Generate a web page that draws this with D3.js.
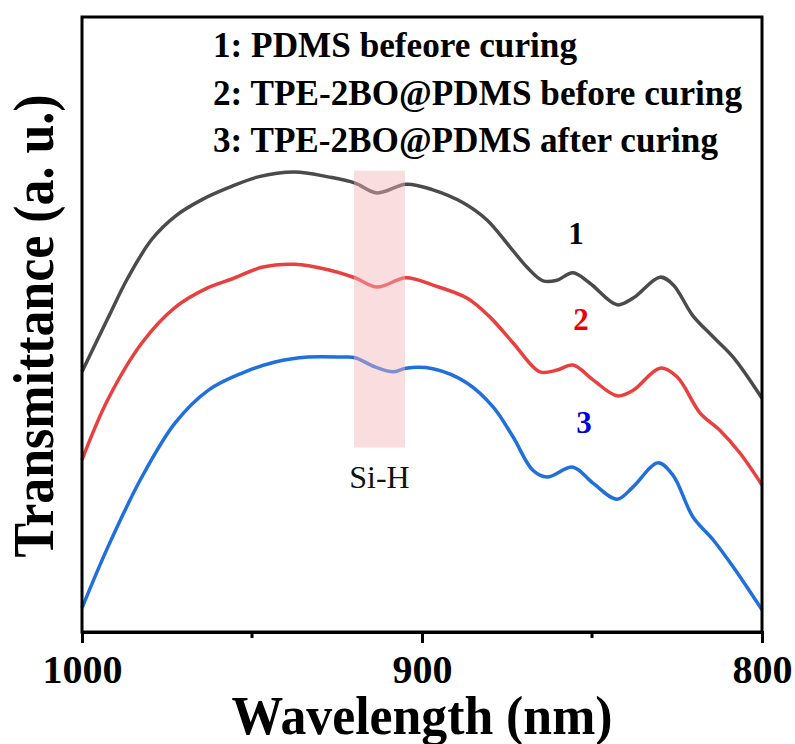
<!DOCTYPE html>
<html>
<head>
<meta charset="utf-8">
<script src="https://cdn.jsdelivr.net/npm/d3@7"></script>
<style>
  body { margin: 0; background: #fff; }
  text { font-family: "Liberation Serif", "Times New Roman", serif; }
</style>
</head>
<body>
<script>
// wavelength (nm) and transmittance (a. u.)
var wl1 = [1000, 992.4, 986.5, 979.4, 972.6, 964.7, 957.1, 948.2, 937.4, 927.6, 919.7, 913.2, 904.7, 896.8, 887.9, 880.9, 874.1, 869.1, 864.4, 860.3, 855.6, 850.6, 842.6, 837.9, 830.0, 826.2, 820.3, 814.4, 808.5, 800];
var t1  = [42.3, 51.0, 57.6, 63.9, 67.6, 70.3, 72.2, 74.0, 74.8, 74.0, 73.0, 71.4, 72.8, 71.9, 69.8, 67.0, 62.6, 59.3, 57.1, 57.2, 58.4, 56.7, 53.2, 54.3, 57.7, 56.5, 51.4, 48.0, 44.7, 38.0];

var wl2 = [1000, 992.4, 982.4, 972.6, 962.9, 955.9, 947.1, 937.4, 927.6, 919.7, 913.2, 904.7, 896.8, 886.8, 880.0, 873.2, 865.3, 860.3, 855.6, 849.7, 842.6, 837.9, 830.0, 825.0, 818.2, 812.4, 806.5, 800];
var t2  = [28.0, 37.8, 47.0, 52.8, 56.0, 57.4, 59.3, 59.8, 58.9, 57.6, 56.1, 57.6, 56.4, 54.3, 51.2, 47.0, 42.3, 42.6, 43.4, 41.0, 38.4, 39.3, 42.9, 41.5, 35.6, 32.8, 29.1, 23.9];

var wl3 = [1000, 992.4, 982.4, 972.6, 962.9, 952.9, 943.2, 933.5, 923.5, 919.7, 913.8, 908.5, 904.7, 896.8, 886.8, 879.1, 873.2, 867.4, 863.2, 855.6, 849.7, 842.6, 837.9, 830.6, 826.2, 820.3, 814.4, 808.5, 800];
var t3  = [3.9, 13.8, 25.2, 34.0, 39.3, 42.1, 43.9, 44.7, 44.7, 44.6, 43.1, 42.3, 42.9, 42.8, 40.5, 36.6, 31.7, 26.3, 25.2, 26.8, 24.2, 21.6, 23.6, 27.5, 25.5, 18.7, 15.0, 10.6, 3.6];

var legendLines = ['1: PDMS befeore curing', '2: TPE-2BO@PDMS before curing', '3: TPE-2BO@PDMS after curing'];
var curveLabels = ['1', '2', '3'];
var majorTicks = [1000, 900, 800];
var minorTicks = [950, 850];
var siH = [920, 905];       // shaded band (nm)
var siHRange = [75, 30];    // band height (a. u.)

var colors = ['#4b4b4b', '#e9403f', '#1f6fdd'];
var labelColors = ['#000000', '#ee0000', '#0000dd'];

var width = 795, height = 744;
var mLeft = 82, mRight = 762, mTop = 17, mBottom = 632;

var svg = d3.select('body').append('svg')
  .attr('width', width)
  .attr('height', height);

var x = d3.scaleLinear().domain([1000, 800]).range([mLeft, mRight]);
var y = d3.scaleLinear().domain([0, 100]).range([mBottom, mTop]);

var line = d3.line()
  .x(function(d) { return x(d[0]); })
  .y(function(d) { return y(d[1]); })
  .curve(d3.curveCatmullRom.alpha(0.5));

var series = [d3.zip(wl1, t1), d3.zip(wl2, t2), d3.zip(wl3, t3)];

svg.selectAll('path.curve')
  .data(series)
  .enter()
    .append('path')
    .attr('class', 'curve')
    .attr('d', line)
    .attr('fill', 'none')
    .attr('stroke', function(d, i) { return colors[i]; })
    .attr('stroke-width', 3.5)
    .attr('stroke-linejoin', 'round');

// Si-H band sits on top of the curves
svg.append('rect')
  .attr('x', x(siH[0]))
  .attr('width', x(siH[1]) - x(siH[0]))
  .attr('y', y(siHRange[0]))
  .attr('height', y(siHRange[1]) - y(siHRange[0]))
  .attr('fill', '#f3b3b8')
  .attr('opacity', 0.45);

svg.append('text')
  .attr('x', x((siH[0] + siH[1]) / 2))
  .attr('y', 488)
  .attr('text-anchor', 'middle')
  .attr('font-size', 32)
  .attr('fill', '#111')
  .text('Si-H');

// frame
svg.append('rect')
  .attr('x', mLeft)
  .attr('y', mTop)
  .attr('width', mRight - mLeft)
  .attr('height', mBottom - mTop)
  .attr('fill', 'none')
  .attr('stroke', '#000')
  .attr('stroke-width', 3);

// x axis
var axis = svg.append('g')
  .attr('transform', 'translate(0,' + mBottom + ')')
  .call(d3.axisBottom(x).tickValues(majorTicks).tickSize(11).tickPadding(12).tickFormat(d3.format('d')));
axis.select('.domain').attr('stroke-width', 3);
axis.selectAll('.tick line').attr('stroke-width', 3);
axis.selectAll('.tick text')
  .attr('font-size', 40)
  .attr('font-weight', 'bold')
  .attr('font-family', '"Liberation Serif", "Times New Roman", serif')
  .attr('fill', '#000');

svg.selectAll('line.minor')
  .data(minorTicks)
  .enter()
    .append('line')
    .attr('class', 'minor')
    .attr('x1', function(d) { return x(d); })
    .attr('x2', function(d) { return x(d); })
    .attr('y1', mBottom)
    .attr('y2', mBottom + 6)
    .attr('stroke', '#000')
    .attr('stroke-width', 3);

// axis titles
svg.append('text')
  .attr('x', (mLeft + mRight) / 2)
  .attr('y', 734)
  .attr('text-anchor', 'middle')
  .attr('font-size', 55)
  .attr('font-weight', 'bold')
  .attr('textLength', 381)
  .attr('lengthAdjust', 'spacingAndGlyphs')
  .text('Wavelength (nm)');

svg.append('text')
  .attr('transform', 'translate(53,326) rotate(-90)')
  .attr('text-anchor', 'middle')
  .attr('font-size', 56)
  .attr('font-weight', 'bold')
  .attr('textLength', 463)
  .attr('lengthAdjust', 'spacingAndGlyphs')
  .text('Transmittance (a. u.)');

// legend
var legendWidths = [364, 529, 505];
svg.selectAll('text.legend')
  .data(legendLines)
  .enter()
    .append('text')
    .attr('class', 'legend')
    .attr('x', 213)
    .attr('y', function(d, i) { return 57 + i * 47.5; })
    .attr('font-size', 35)
    .attr('font-weight', 'bold')
    .attr('textLength', function(d, i) { return legendWidths[i]; })
    .attr('lengthAdjust', 'spacingAndGlyphs')
    .text(function(d) { return d; });

// curve numbers
var numPos = [[576, 244], [581, 330], [584, 433]];
svg.selectAll('text.num')
  .data(curveLabels)
  .enter()
    .append('text')
    .attr('class', 'num')
    .attr('x', function(d, i) { return numPos[i][0]; })
    .attr('y', function(d, i) { return numPos[i][1]; })
    .attr('text-anchor', 'middle')
    .attr('font-size', 31)
    .attr('font-weight', 'bold')
    .attr('fill', function(d, i) { return labelColors[i]; })
    .text(function(d) { return d; });
</script>
</body>
</html>
